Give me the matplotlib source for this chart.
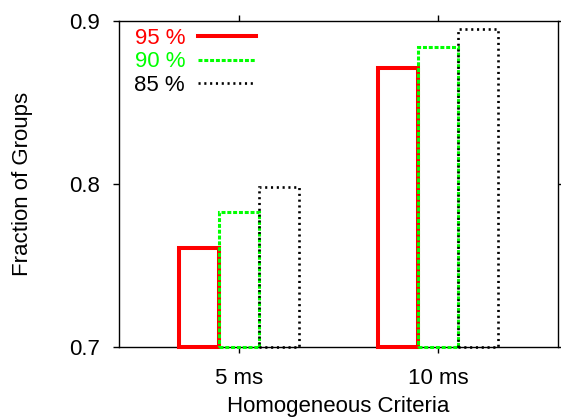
import matplotlib
matplotlib.use("Agg")
import matplotlib.pyplot as plt
import numpy as np

plt.rcParams['font.family'] = ['Liberation Sans', 'DejaVu Sans']

categories = ["5 ms", "10 ms"]
series_labels = ["95 %", "90 %", "85 %"]
values_95 = [0.7606, 0.8710]
values_90 = [0.7830, 0.8840]
values_85 = [0.7980, 0.8950]
y_ticks = [0.7, 0.8, 0.9]

series = [values_95, values_90, values_85]
colors = ["#ff0000", "#00ff00", "#000000"]
styles = ["-", (0, (1.3, 0.6)), (0, (0.8, 1.4))]
widths = [2.9, 2.2, 1.9]

FS = 16

fig = plt.figure(figsize=(5.61, 4.18), dpi=100)
ax = fig.add_axes([119/561, 1-347/418, (558-119)/561, (347-21)/418])

ymin, ymax = 0.7, 0.9
x = np.arange(len(categories))
bw = 0.2
offsets = [-bw, 0.0, bw]
for vals, lab, c, ls, lw, off in zip(series, series_labels, colors, styles, widths, offsets):
    v = np.array(vals)
    ax.bar(x + off, v - ymin, bottom=ymin, width=bw, fill=False, edgecolor=c,
           linestyle=ls, linewidth=lw, clip_on=False, zorder=3)
    ax.plot([], [], color=c, linestyle=ls, linewidth=lw, label=lab)

ax.set_xlim(-0.6, 1.6)
ax.set_ylim(ymin, ymax)
ax.set_xticks(x)
ax.set_xticklabels(categories)
ax.set_yticks(y_ticks)
ax.set_yticklabels([f"{t:.1f}" for t in y_ticks])
ax.tick_params(direction='out', length=4, width=1, labelsize=FS, top=True, right=True)
ax.tick_params(axis='y', pad=10)
ax.tick_params(axis='x', pad=11)
for s in ax.spines.values():
    s.set_linewidth(1.0)

ax.set_xlabel("Homogeneous Criteria", fontsize=FS, labelpad=5)
ax.set_ylabel("Fraction of Groups", fontsize=FS, labelpad=26)

leg = ax.legend(loc='upper left', bbox_to_anchor=(0.015, 1.005), frameon=False,
                markerfirst=False, fontsize=FS, handlelength=2.6, handletextpad=0.6,
                labelspacing=0.1, labelcolor='linecolor', borderaxespad=0.0)

fig.savefig("out.png", dpi=100)
